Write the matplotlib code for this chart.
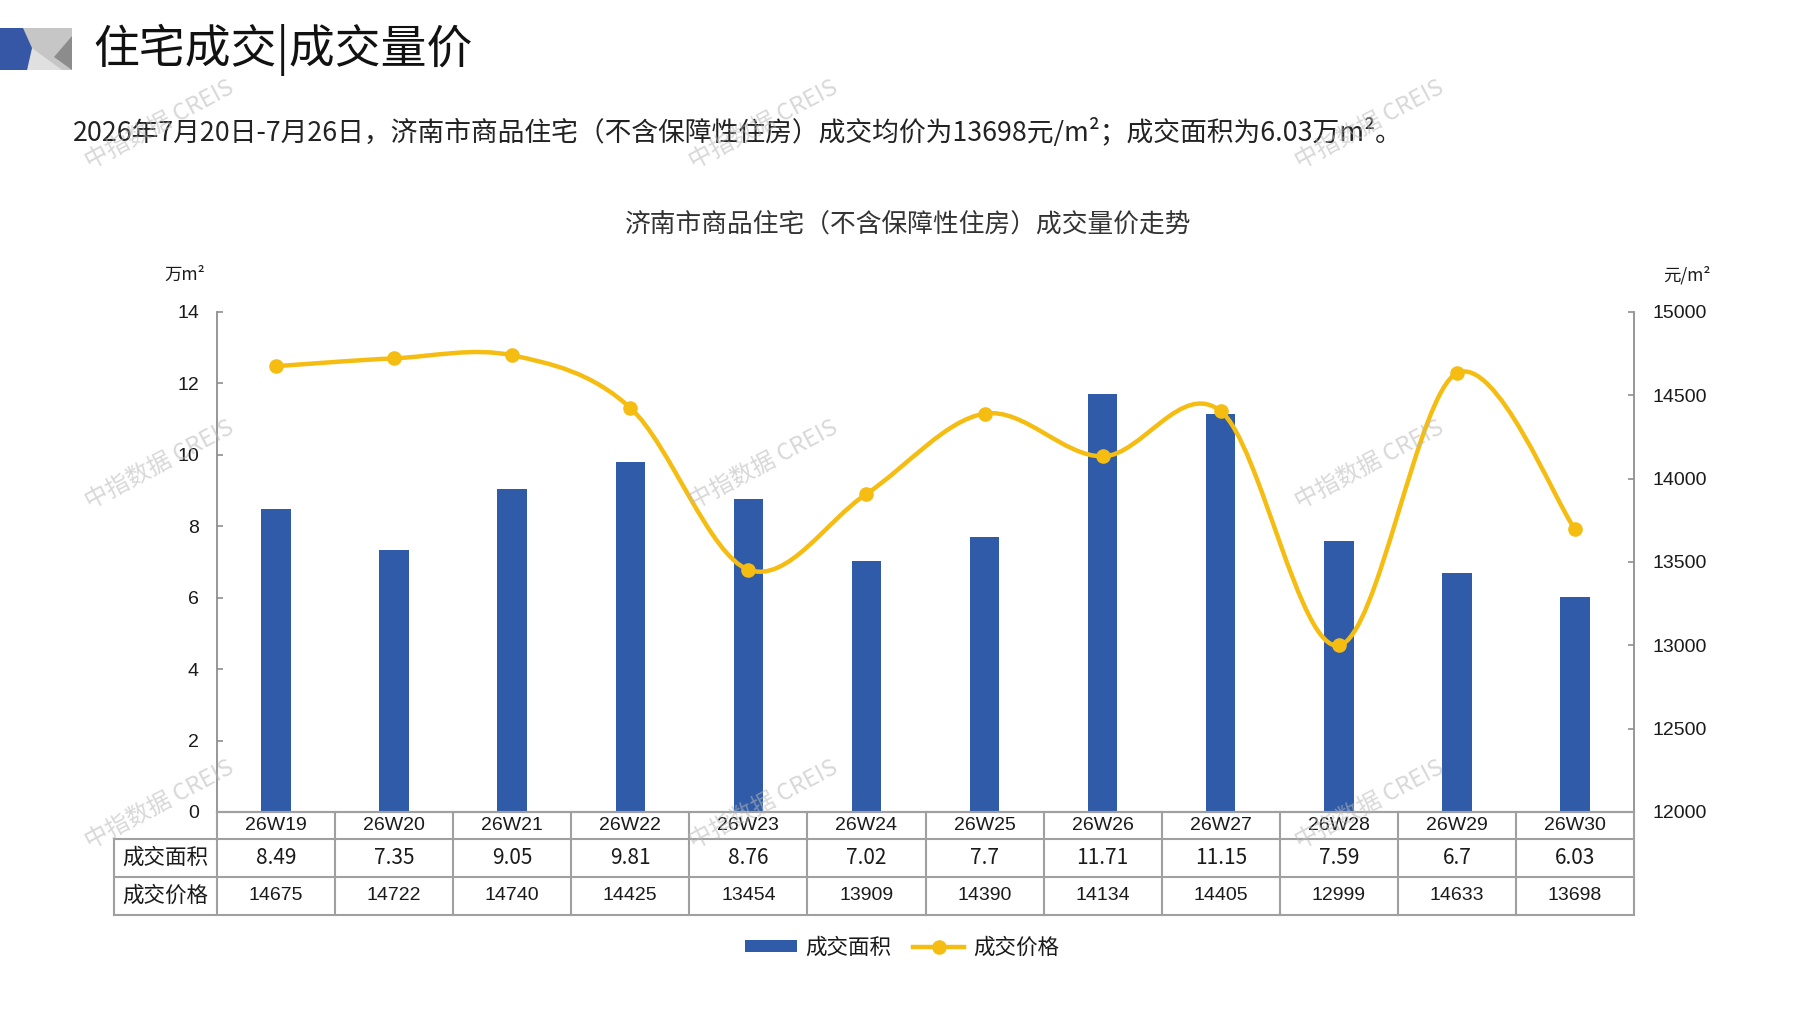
import matplotlib
matplotlib.use('Agg')
import matplotlib.pyplot as plt
from matplotlib.path import Path
from matplotlib.patches import PathPatch, Polygon, Rectangle
from matplotlib.lines import Line2D
from matplotlib.transforms import blended_transform_factory
import numpy as np

# ---------------- data ----------------
weeks = ['26W19', '26W20', '26W21', '26W22', '26W23', '26W24',
         '26W25', '26W26', '26W27', '26W28', '26W29', '26W30']
area = [8.49, 7.35, 9.05, 9.81, 8.76, 7.02, 7.7, 11.71, 11.15, 7.59, 6.7, 6.03]
price = [14675, 14722, 14740, 14425, 13454, 13909, 14390, 14134, 14405, 12999, 14633, 13698]
row_labels = ['成交面积', '成交价格']
left_ticks = [0, 2, 4, 6, 8, 10, 12, 14]
right_ticks = [12000, 12500, 13000, 13500, 14000, 14500, 15000]

# ---------------- style ----------------
CJK = ['Noto Sans CJK SC', 'DejaVu Sans']
NUM = ['Liberation Sans', 'DejaVu Sans']
NARROW = ['Liberation Sans Narrow', 'Liberation Sans', 'DejaVu Sans']
BLUE = '#2F5BA8'
YELLOW = '#F5BD12'
GRAY = '#8f8f8f'
GRID = '#a0a0a0'
TXT = '#1a1a1a'

W, H = 1797, 1010
fig = plt.figure(figsize=(W / 100, H / 100), dpi=100)
fig.patch.set_facecolor('white')


def fx(x):
    return x / W


def fy(y):
    return 1 - y / H


# ---------------- header logo ----------------
def poly(pts, color):
    fig.add_artist(Polygon([(fx(a), fy(b)) for a, b in pts], closed=True,
                           transform=fig.transFigure, facecolor=color,
                           edgecolor='none'))


poly([(23, 28), (72, 28), (72, 70), (23, 70)], '#c6c6c6')
poly([(32, 48), (62, 70), (27, 70)], '#e0e0e0')
poly([(72, 36), (72, 70), (54, 57)], '#8c8c8c')
poly([(0, 28), (23, 28), (32, 48), (27, 70), (0, 70)], '#3557A6')

fig.text(fx(93), fy(50), '住宅成交|成交量价', fontsize=33, family=CJK,
         va='center', ha='left', color='#111111')

subtitle = (f'2026年7月20日-7月26日，济南市商品住宅（不含保障性住房）成交均价为'
            f'{price[-1]}元/m²；成交面积为{area[-1]:g}万m²。')
fig.text(fx(73), fy(132), subtitle, fontsize=19.3, family=CJK,
         va='center', ha='left', color='#222222')

fig.text(fx(908), fy(226), '济南市商品住宅（不含保障性住房）成交量价走势',
         fontsize=18.5, family=CJK, va='center', ha='center', color='#333333')

# ---------------- axes ----------------
L, R, T, B = 217, 1634, 312, 812
ax = fig.add_axes([fx(L), fy(B), (R - L) / W, (B - T) / H])
x = np.arange(len(weeks))
ax.set_xlim(-0.5, len(weeks) - 0.5)
ax.set_ylim(left_ticks[0], left_ticks[-1])
ax.bar(x, area, width=0.25, color=BLUE, zorder=2)
ax.set_yticks(left_ticks)
ax.set_xticks([])
for s in ['top', 'right']:
    ax.spines[s].set_visible(False)
ax.spines['left'].set_color(GRAY)
ax.spines['left'].set_linewidth(1.3)
ax.spines['bottom'].set_color(GRID)
ax.spines['bottom'].set_linewidth(1.5)
ax.tick_params(axis='y', direction='in', length=4, width=1.2, color=GRAY,
               labelsize=14, labelcolor=TXT, pad=13)
for lab in ax.get_yticklabels():
    lab.set_family(NUM)

ax2 = ax.twinx()
ax2.set_ylim(right_ticks[0], right_ticks[-1])
ax2.set_yticks(right_ticks)
for s in ['top', 'left', 'bottom']:
    ax2.spines[s].set_visible(False)
ax2.spines['right'].set_color(GRAY)
ax2.spines['right'].set_linewidth(1.3)
ax2.tick_params(axis='y', direction='in', length=4, width=1.2, color=GRAY,
                labelsize=14, labelcolor=TXT, pad=13)
for lab in ax2.get_yticklabels():
    lab.set_family(NUM)

# smoothed line (Bezier through data points)
pts = np.column_stack([x, np.array(price, dtype=float)])
n = len(pts)
verts = [pts[0]]
codes = [Path.MOVETO]
for i in range(n - 1):
    p0 = pts[i - 1] if i > 0 else pts[i]
    p1 = pts[i]
    p2 = pts[i + 1]
    p3 = pts[i + 2] if i + 2 < n else pts[i + 1]
    c1 = p1 + (p2 - p0) / 6.0
    c2 = p2 - (p3 - p1) / 6.0
    verts += [c1, c2, p2]
    codes += [Path.CURVE4] * 3
ax2.add_patch(PathPatch(Path(verts, codes), facecolor='none', edgecolor=YELLOW,
                        lw=3.2, zorder=3, capstyle='round', joinstyle='round'))
ax2.plot(x, price, 'o', ms=9.5, color=YELLOW, zorder=4)

# unit labels
fig.text(fx(205), fy(275), '万m²', fontsize=12.5, family=CJK, ha='right',
         va='center', color=TXT)
fig.text(fx(1663), fy(275), '元/m²', fontsize=12.5, family=CJK, ha='left',
         va='center', color=TXT)

# ---------------- data table ----------------
col_w_px = (R - L) / len(weeks)
label_col_px = L - 114
trans = blended_transform_factory(ax.transData, fig.transFigure)
x_label_left = -0.5 - label_col_px / col_w_px
row_edges = [812, 839, 877, 915]


def hline(x0, x1, ypx):
    fig.add_artist(Line2D([x0, x1], [fy(ypx), fy(ypx)], transform=trans,
                          color=GRID, lw=1.5, clip_on=False))


def vline(xd, y0, y1):
    fig.add_artist(Line2D([xd, xd], [fy(y0), fy(y1)], transform=trans,
                          color=GRID, lw=1.5, clip_on=False))


hline(-0.5, len(weeks) - 0.5, row_edges[0])
for ypx in row_edges[1:]:
    hline(x_label_left, len(weeks) - 0.5, ypx)
for k in range(len(weeks) + 1):
    vline(k - 0.5, row_edges[0], row_edges[3])
vline(x_label_left, row_edges[1], row_edges[3])

cy = [(row_edges[i] + row_edges[i + 1]) / 2 for i in range(3)]
for i, w in enumerate(weeks):
    fig.text(i, fy(cy[0]), w, transform=trans, ha='center', va='center',
             fontsize=14, family=NARROW, color=TXT)
    fig.text(i, fy(cy[1]), f'{area[i]:g}', transform=trans, ha='center',
             va='center', fontsize=15, family=CJK, color=TXT)
    fig.text(i, fy(cy[2]), f'{price[i]}', transform=trans, ha='center',
             va='center', fontsize=14, family=NARROW, color=TXT)
label_cx = (x_label_left + (-0.5)) / 2
for j, lab in enumerate(row_labels):
    fig.text(label_cx, fy(cy[j + 1]), lab, transform=trans, ha='center',
             va='center', fontsize=15.5, family=CJK, color=TXT)

# ---------------- legend ----------------
h1 = Rectangle((0, 0), 1, 1, facecolor=BLUE, edgecolor='none')
h2 = Line2D([], [], color=YELLOW, lw=3.2, marker='o', ms=9.5)
leg = fig.legend([h1, h2], row_labels, loc='center',
                 bbox_to_anchor=(fx(902), fy(948)), ncol=2, frameon=False,
                 fontsize=15.5, handlelength=2.4, handleheight=0.5,
                 columnspacing=1.0, handletextpad=0.4)
for t in leg.get_texts():
    t.set_family(CJK)
    t.set_color(TXT)

# ---------------- watermarks ----------------
for wy in [125, 465, 805]:
    for wx in [160, 764, 1370]:
        fig.text(fx(wx), fy(wy), '中指数据 CREIS', fontsize=17, family=CJK,
                 rotation=28, ha='center', va='center', color='#b8b8b8',
                 alpha=0.55, zorder=10)

fig.savefig('out.png', dpi=100, facecolor='white')
